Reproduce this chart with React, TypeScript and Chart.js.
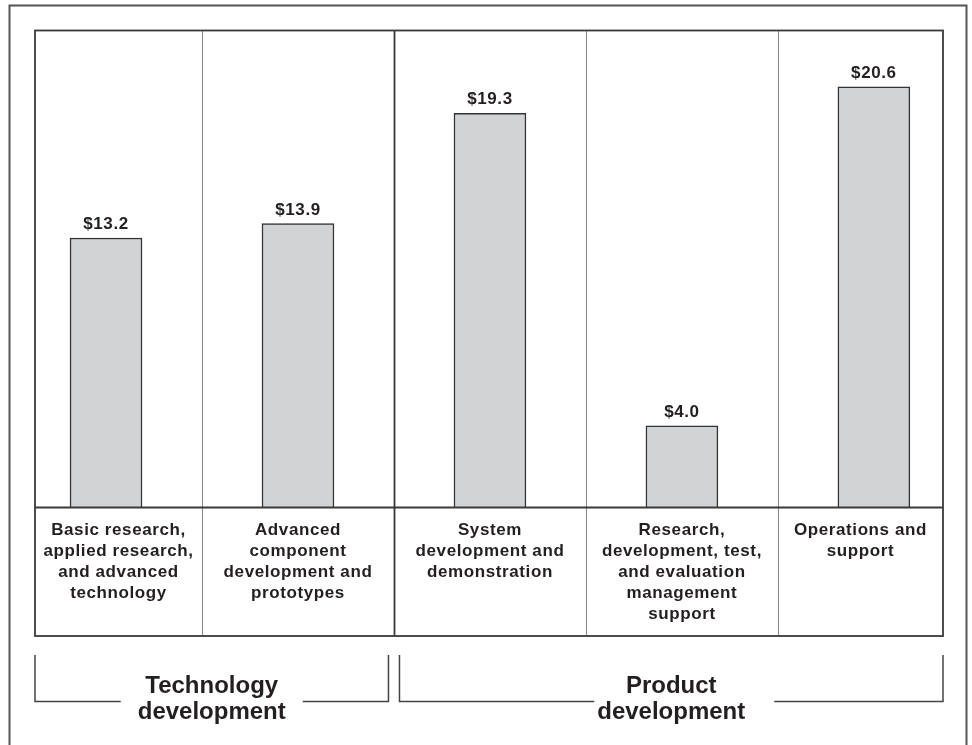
import React, { useEffect, useRef } from "react";
import { Chart, registerables } from "chart.js";

Chart.register(...registerables);

const categories: string[][] = [
  ["Basic research,", "applied research,", "and advanced", "technology"],
  ["Advanced", "component", "development and", "prototypes"],
  ["System", "development and", "demonstration"],
  ["Research,", "development, test,", "and evaluation", "management", "support"],
  ["Operations and", "support"],
];
const values: number[] = [13.2, 13.9, 19.3, 4.0, 20.6];
const valueLabels: string[] = ["$13.2", "$13.9", "$19.3", "$4.0", "$20.6"];
const groups: string[][] = [
  ["Technology", "development"],
  ["Product", "development"],
];
const groupSpans: number[][] = [
  [0, 1],
  [2, 4],
];
const strongDividers: number[] = [1]; // divider after category index 1 separates groups

const TEXT = "#231f20";
const FONT = '"Liberation Sans", Arial, Helvetica, sans-serif';
// horizontal gap around the group title in each bracket (left, right) in px from centre
const bracketGaps: number[][] = [
  [91, 91],
  [77, 103],
];

const overlay = {
  id: "overlay",
  beforeDatasetsDraw(chart: any) {
    const { ctx, chartArea, scales } = chart;
    const x = scales.x;
    const top = chartArea.top;
    const base = chartArea.bottom;
    const boxBottom = base + 128.5;
    ctx.save();
    for (let i = 0; i < categories.length - 1; i++) {
      const px = Math.round(x.getPixelForValue(i + 0.5)) + 0.5;
      const strong = strongDividers.includes(i);
      ctx.strokeStyle = strong ? "#3a3a3a" : "#8a8a8a";
      ctx.lineWidth = strong ? 1.8 : 1.1;
      ctx.beginPath();
      ctx.moveTo(px, top);
      ctx.lineTo(px, boxBottom);
      ctx.stroke();
    }
    ctx.restore();
  },
  afterDatasetsDraw(chart: any) {
    const { ctx, chartArea, scales } = chart;
    const x = scales.x;
    const left = chartArea.left;
    const right = chartArea.right;
    const top = chartArea.top;
    const base = chartArea.bottom;
    const boxBottom = base + 128.5;
    ctx.save();
    ctx.strokeStyle = "#3a3a3a";
    ctx.lineWidth = 1.8;
    ctx.strokeRect(left, top, right - left, boxBottom - top);
    ctx.beginPath();
    ctx.moveTo(left, base);
    ctx.lineTo(right, base);
    ctx.stroke();

    ctx.strokeStyle = "#555";
    ctx.lineWidth = 2;
    ctx.strokeRect(9.5, 5.5, 957, 800);

    const meta = chart.getDatasetMeta(0);
    ctx.fillStyle = TEXT;
    ctx.font = `bold 17px ${FONT}`;
    (ctx as any).letterSpacing = "0.6px";
    ctx.textAlign = "center";
    ctx.textBaseline = "alphabetic";
    meta.data.forEach((el: any, i: number) => {
      ctx.fillText(valueLabels[i], el.x, el.y - 9);
    });

    categories.forEach((lines, i) => {
      const a = Math.max(left, x.getPixelForValue(i - 0.5));
      const b = Math.min(right, x.getPixelForValue(i + 0.5));
      const cx = (a + b) / 2;
      lines.forEach((ln, j) => {
        ctx.fillText(ln, cx, base + 27.5 + j * 21);
      });
    });
    (ctx as any).letterSpacing = "0px";

    const bTop = base + 147.5;
    const bY = base + 194;
    ctx.strokeStyle = "#444";
    ctx.lineWidth = 1.5;
    ctx.font = `bold 24px ${FONT}`;
    groups.forEach((lines, g) => {
      const [s, e] = groupSpans[g];
      const a = Math.max(left, x.getPixelForValue(s - 0.5)) + (g > 0 ? 5.5 : 0);
      const b = Math.min(right, x.getPixelForValue(e + 0.5)) - (g < groups.length - 1 ? 5.5 : 0);
      const cx = (a + b) / 2;
      const [gl, gr] = bracketGaps[g];
      ctx.beginPath();
      ctx.moveTo(a, bTop);
      ctx.lineTo(a, bY);
      ctx.lineTo(cx - gl, bY);
      ctx.moveTo(cx + gr, bY);
      ctx.lineTo(b, bY);
      ctx.lineTo(b, bTop);
      ctx.stroke();
      lines.forEach((ln, j) => {
        ctx.fillText(ln, cx, base + 185.5 + j * 25.5);
      });
    });
    ctx.restore();
  },
};

export default function App() {
  const ref = useRef<HTMLCanvasElement>(null);
  useEffect(() => {
    if (!ref.current) return;
    const chart = new Chart(ref.current, {
      type: "bar",
      data: {
        datasets: [
          {
            data: values.map((v, i) => ({ x: i, y: v })),
            backgroundColor: "#d1d3d4",
            borderColor: "#333",
            borderWidth: 1.5,
            barThickness: 72,
          },
        ],
      },
      options: {
        animation: false,
        responsive: false,
        layout: { padding: { left: 35, right: 29, top: 30.5, bottom: 237.5 } },
        plugins: { legend: { display: false }, tooltip: { enabled: false } },
        scales: {
          x: { type: "linear", min: -0.37, max: 4.36, offset: false, display: false },
          y: { min: 0, max: 23.36, display: false },
        },
      },
      plugins: [overlay],
    });
    return () => chart.destroy();
  }, []);
  return (
    <div style={{ position: "fixed", left: 0, top: 0, width: 972, height: 745, background: "#fff" }}>
      <canvas ref={ref} width={972} height={745} style={{ width: 972, height: 745, display: "block" }} />
    </div>
  );
}
